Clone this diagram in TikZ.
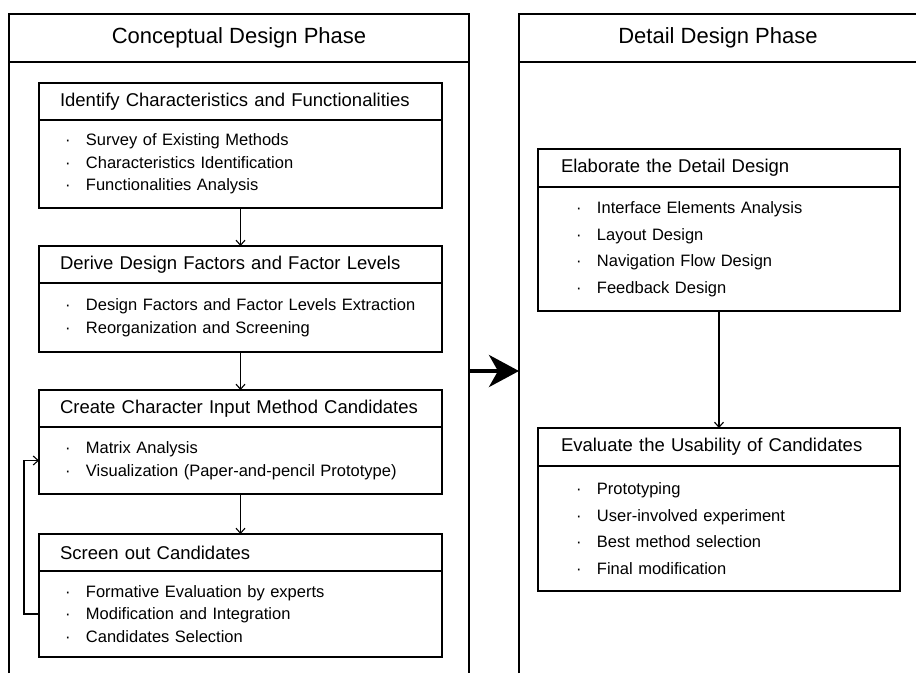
\documentclass[tikz,border=0pt]{standalone}
\usepackage{fontspec}
\setmainfont{Liberation Sans}
\usetikzlibrary{positioning,arrows.meta}

\newcommand\itm[1]{\makebox[21pt][l]{\textperiodcentered}#1}

\begin{document}
\begin{tikzpicture}[x=1pt,y=-1pt,line width=1.1pt,>={Straight Barb[length=5pt,width=9pt]},
  head/.style={draw,outer sep=0pt,minimum height=37pt,inner xsep=21pt,align=left,font=\fontsize{18.5}{22}\selectfont},
  lhead/.style={head,text width=361pt},
  rhead/.style={head,minimum height=38pt,inner xsep=23pt,text width=316pt},
  lbody/.style={draw,outer sep=0pt,inner xsep=26pt,text width=351pt,align=left,font=\fontsize{16.5}{22.5}\selectfont},
  rbody/.style={draw,outer sep=0pt,inner xsep=38pt,text width=286pt,align=left,font=\fontsize{16.5}{26.5}\selectfont}]
  \useasboundingbox (0,0) rectangle (916,673);

  \draw (9,673) -- (9,14) -- (469,14) -- (469,673);
  \draw (9,62) -- (469,62);
  \draw (519,673) -- (519,14) -- (916,14);
  \draw (519,62) -- (916,62);
  \node[font=\fontsize{22}{26}\selectfont] (concept) at (239,38) {Conceptual Design Phase};
  \node[font=\fontsize{22}{26}\selectfont] (detail) at (718,38) {Detail Design Phase};

  \node[lhead,anchor=north west] (h1) at (39,83) {Identify Characteristics and Functionalities};
  \node[lbody,minimum height=88pt,below=0pt of h1] (l1)
    {\itm{Survey of Existing Methods}\\ \itm{Characteristics Identification}\\ \itm{Functionalities Analysis}};
  \node[lhead,below=38pt of l1] (h2) {Derive Design Factors and Factor Levels};
  \node[lbody,minimum height=69pt,below=0pt of h2] (l2)
    {\itm{Design Factors and Factor Levels Extraction}\\ \itm{Reorganization and Screening}};
  \node[lhead,below=38pt of l2] (h3) {Create Character Input Method Candidates};
  \node[lbody,minimum height=67pt,below=0pt of h3] (l3)
    {\itm{Matrix Analysis}\\ \itm{Visualization (Paper-and-pencil Prototype)}};
  \node[lhead,below=40pt of l3] (h4) {Screen out Candidates};
  \node[lbody,minimum height=86pt,below=0pt of h4] (l4)
    {\itm{Formative Evaluation by experts}\\ \itm{Modification and Integration}\\ \itm{Candidates Selection}};

  \node[rhead,anchor=north west] (h5) at (538,149) {Elaborate the Detail Design};
  \node[rbody,minimum height=124pt,below=0pt of h5] (l5)
    {\itm{Interface Elements Analysis}\\ \itm{Layout Design}\\ \itm{Navigation Flow Design}\\ \itm{Feedback Design}};
  \node[rhead,below=117pt of l5] (h6) {Evaluate the Usability of Candidates};
  \node[rbody,minimum height=125pt,below=0pt of h6] (l6)
    {\itm{Prototyping}\\ \itm{User-involved experiment}\\ \itm{Best method selection}\\ \itm{Final modification}};

  \draw[->] (l1) -- (h2);
  \draw[->] (l2) -- (h3);
  \draw[->] (l3) -- (h4);
  \draw[->] (l5) -- (h6);
  \draw[->] (l4.west) -- ++(-15,0) |- (l3.west);

  \coordinate (cout) at (469,371);
  \coordinate (din) at (519,371);
  \draw[line width=4pt,-{Stealth[length=30pt,width=32pt,inset=9pt]}] (cout) -- (din);
\end{tikzpicture}
\end{document}
